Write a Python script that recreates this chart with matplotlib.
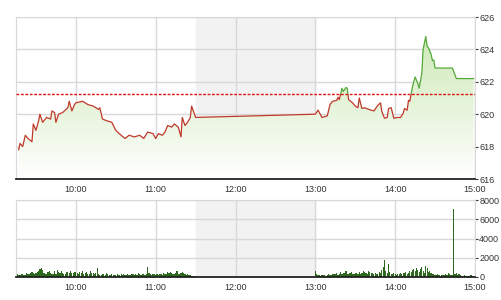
import numpy as np
import matplotlib
matplotlib.use('Agg')
import matplotlib.pyplot as plt
from matplotlib.patches import Rectangle

plt.rcParams['font.family'] = ['Liberation Sans', 'DejaVu Sans']

# price, times as "HH:MM"
price_times = ['09:17', '09:18', '09:20', '09:22', '09:24', '09:27', '09:28', '09:30', '09:32', '09:33',
               '09:35', '09:38', '09:41', '09:42', '09:44', '09:45', '09:47', '09:50', '09:54', '09:55',
               '09:57', '09:59', '10:00', '10:05', '10:09', '10:13', '10:17', '10:18', '10:20', '10:23',
               '10:27', '10:30', '10:34', '10:37', '10:40', '10:44', '10:48', '10:51', '10:54', '10:58',
               '11:00', '11:02', '11:05', '11:07', '11:09', '11:12', '11:14', '11:17', '11:19', '11:20',
               '11:22', '11:24', '11:26', '11:27', '11:30',
               '13:00', '13:02', '13:04', '13:05', '13:09', '13:11', '13:13', '13:16', '13:17', '13:18',
               '13:20', '13:21', '13:23', '13:24', '13:25', '13:28', '13:30', '13:32', '13:33', '13:35',
               '13:37', '13:40', '13:44', '13:47', '13:49', '13:50', '13:52', '13:54', '13:55', '13:57',
               '13:59', '14:02', '14:04', '14:06', '14:07', '14:09', '14:10', '14:11', '14:13', '14:15',
               '14:17', '14:18', '14:20', '14:21', '14:23', '14:24', '14:25', '14:27', '14:28', '14:29',
               '14:30', '14:43', '14:46', '14:59']
price = [617.8, 618.2, 618.0, 618.7, 618.5, 618.3, 619.4, 619.0, 619.6, 620.0,
         619.5, 619.8, 619.7, 620.2, 620.1, 619.5, 620.0, 620.1, 620.4, 620.8,
         620.2, 620.6, 620.7, 620.8, 620.6, 620.5, 620.3, 620.4, 619.7, 619.6,
         619.5, 619.0, 618.7, 618.5, 618.7, 618.6, 618.7, 618.5, 618.9, 618.8,
         618.5, 618.8, 618.7, 618.9, 619.3, 619.2, 619.4, 619.2, 618.6, 619.8,
         619.3, 619.5, 619.8, 620.5, 619.8,
         620.0, 620.25, 619.95, 619.8, 619.9, 620.6, 620.8, 620.85, 621.05, 620.9,
         621.6, 621.4, 621.65, 621.6, 620.9, 620.7, 620.5, 620.4, 621.0, 620.35,
         620.4, 620.3, 620.2, 620.55, 620.7, 620.15, 619.75, 619.8, 620.35, 620.4,
         619.75, 619.8, 619.8, 620.05, 620.35, 620.25, 620.85, 620.8, 621.7, 622.3,
         621.9, 621.6, 622.5, 624.0, 624.8, 624.2, 624.1, 623.7, 623.3, 623.35,
         622.85, 622.85, 622.2, 622.2]
ref_price = 621.25

# volume per minute
vol_morning = [150, 300, 250, 200, 350, 300, 200, 250, 400, 350, 300, 450, 500, 400, 350,
               400, 500, 600, 850, 900, 700, 400, 350, 300, 500, 600, 450, 300, 350, 650,
               300, 700, 500, 450, 600, 400, 350, 300, 500, 550, 400, 650, 450, 400, 500,
               550, 400, 350, 500, 450, 600, 300, 400, 500, 350, 300, 600, 400, 450, 350,
               400, 900, 300, 250, 200, 350, 300, 250, 450, 300, 250, 200, 300, 250, 200,
               250, 300, 200, 250, 300, 200, 350, 250, 200, 300, 250, 200, 300, 350, 250,
               300, 250, 400, 300, 250, 350, 300, 250, 350, 1000, 400, 300, 250, 350, 300,
               250, 300, 200, 350, 300, 250, 400, 300, 350, 500, 450, 550, 400, 300, 350,
               400, 600, 350, 300, 450, 500, 400, 350, 250, 300, 250, 200, 150, 150, 100]
vol_afternoon = [600, 300, 250, 200, 150, 200, 250, 200, 150, 250, 300, 200, 250, 300, 350,
                 300, 400, 250, 350, 500, 300, 450, 400, 600, 350, 300, 400, 500, 350, 300,
                 450, 400, 350, 500, 300, 450, 600, 550, 400, 350, 600, 500, 400, 450, 350,
                 400, 300, 350, 500, 450, 700, 1000, 1800, 600, 400, 1400, 500, 300, 350, 400,
                 300, 250, 350, 300, 400, 350, 450, 400, 500, 350, 450, 600, 500, 700, 800,
                 600, 900, 700, 500, 800, 1000, 600, 400, 1100, 900, 500, 600, 400, 300, 350,
                 200, 250, 300, 200, 150, 200, 250, 200, 300, 250, 400, 300, 250, 200, 7100,
                 300, 400, 250, 300, 200, 150, 100, 200, 150, 100, 150, 100, 200, 150, 100]

tick_labels = ['10:00', '11:00', '12:00', '13:00', '14:00', '15:00']


def to_min(s):
    h, m = s.split(':')
    return (int(h) - 9) * 60 + int(m) - 15


px = np.array([to_min(t) for t in price_times], dtype=float)
py = np.array(price)
vx_m = np.arange(len(vol_morning))
vx_a = to_min('13:00') + np.arange(len(vol_afternoon))
ticks = [to_min(t) for t in tick_labels]
lunch = (to_min('11:30'), to_min('13:00'))

fig = plt.figure(figsize=(5.01, 3.0), dpi=100)
ax = fig.add_axes([16 / 501, 1 - 179 / 300, 459 / 501, 162 / 300])
ax2 = fig.add_axes([16 / 501, 1 - 277 / 300, 459 / 501, 77 / 300])

grid_c = '#d8d8d8'
txt_c = '#333333'
for a in (ax, ax2):
    a.set_xlim(0, 345)
    a.axvspan(lunch[0], lunch[1], color='#f2f2f2', zorder=0)
    a.set_xticks(ticks)
    a.set_xticklabels(tick_labels)
    a.grid(True, color=grid_c, linewidth=1, zorder=0.5)
    a.set_axisbelow(True)
    a.yaxis.tick_right()
    a.tick_params(axis='both', labelsize=6.5, colors=txt_c, length=2, width=0.8, pad=1)
    a.tick_params(axis='x', length=0, pad=4)
    for s in ('top', 'left', 'right'):
        a.spines[s].set_color(grid_c)
    a.spines['bottom'].set_color('#222222')
    a.spines['bottom'].set_linewidth(1.3)

# price panel
ax.set_ylim(616, 626)
ax.set_yticks([616, 618, 620, 622, 624, 626])

# gradient fill under the line
grad = np.linspace(0, 1, 256).reshape(-1, 1)
cmap = matplotlib.colors.LinearSegmentedColormap.from_list('g', ['#ffffff', '#cde9b6'])
img = ax.imshow(grad, aspect='auto', cmap=cmap, origin='lower',
                extent=[px[0], px[-1], 616, 625], zorder=1)
poly = ax.fill_between(px, py, 616, color='none')
img.set_clip_path(poly.get_paths()[0], transform=ax.transData)

ax.axhline(ref_price, color='#dd1111', linestyle=(0, (2, 1.2)), linewidth=1, zorder=3)

lo, = ax.plot(px, py, color='#c0392b', linewidth=0.9, zorder=4)
hi, = ax.plot(px, py, color='#55a83a', linewidth=0.9, zorder=4)
lo.set_clip_path(Rectangle((0, 610), 400, ref_price - 610, transform=ax.transData))
hi.set_clip_path(Rectangle((0, ref_price), 400, 20, transform=ax.transData))

# volume panel
ax2.set_ylim(0, 8000)
ax2.set_yticks([0, 2000, 4000, 6000, 8000])
ax2.bar(vx_m, vol_morning, width=0.9, color='#2d6a1f', zorder=2)
ax2.bar(vx_a, vol_afternoon, width=0.9, color='#2d6a1f', zorder=2)

fig.savefig('out.png', dpi=100)
